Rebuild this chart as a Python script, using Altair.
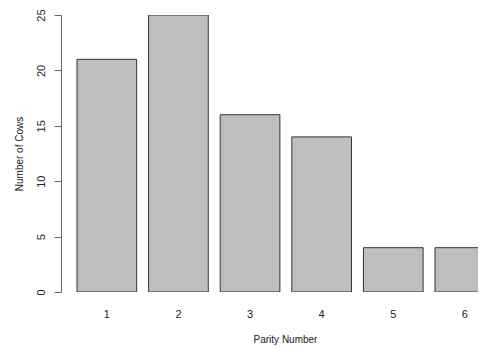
import altair as alt
import pandas as pd

parity = ["1", "2", "3", "4", "5", "6"]
cows = [21, 25, 16, 14, 4, 4]

df = pd.DataFrame({"Parity Number": parity, "Number of Cows": cows})

FONT = "Liberation Sans"

chart = alt.Chart(df).mark_bar(
    fill="#BEBEBE", stroke="#333333", strokeWidth=1, clip=True
).encode(
    x=alt.X(
        "Parity Number:N",
        sort=parity,
        scale=alt.Scale(range=[16, 433.7], paddingInner=0.1667, paddingOuter=0),
        axis=alt.Axis(
            domain=False, ticks=False, labelAngle=0, labelPadding=16,
            labelFontSize=11, labelFont=FONT, labelColor="#222222",
            title="Parity Number", titleFontSize=10, titleFont=FONT,
            titleFontWeight="normal", titleColor="#222222",
            titleX=224, titleY=47, titleBaseline="middle", titleAlign="center",
        ),
    ),
    y=alt.Y(
        "Number of Cows:Q",
        scale=alt.Scale(domain=[0, 25], nice=False, zero=True),
        axis=alt.Axis(
            values=[0, 5, 10, 15, 20, 25], grid=False,
            domainColor="#666666", tickColor="#666666", tickSize=7,
            labelAngle=270, labelAlign="center", labelBaseline="middle",
            labelPadding=13, labelFontSize=11, labelFont=FONT,
            labelColor="#222222",
            title="Number of Cows", titleFontSize=10, titleFont=FONT,
            titleFontWeight="normal", titleColor="#222222",
            titleAngle=270, titleX=-42, titleY=138.5,
            titleBaseline="middle", titleAlign="center",
        ),
    ),
).properties(
    width=417, height=277,
    autosize=alt.AutoSizeParams(type="none"),
    padding={"left": 53, "top": 7, "right": 0, "bottom": 56},
).configure(background="white").configure_view(stroke=None)

chart.save("out.html", embed_options={"renderer": "svg", "actions": False})
